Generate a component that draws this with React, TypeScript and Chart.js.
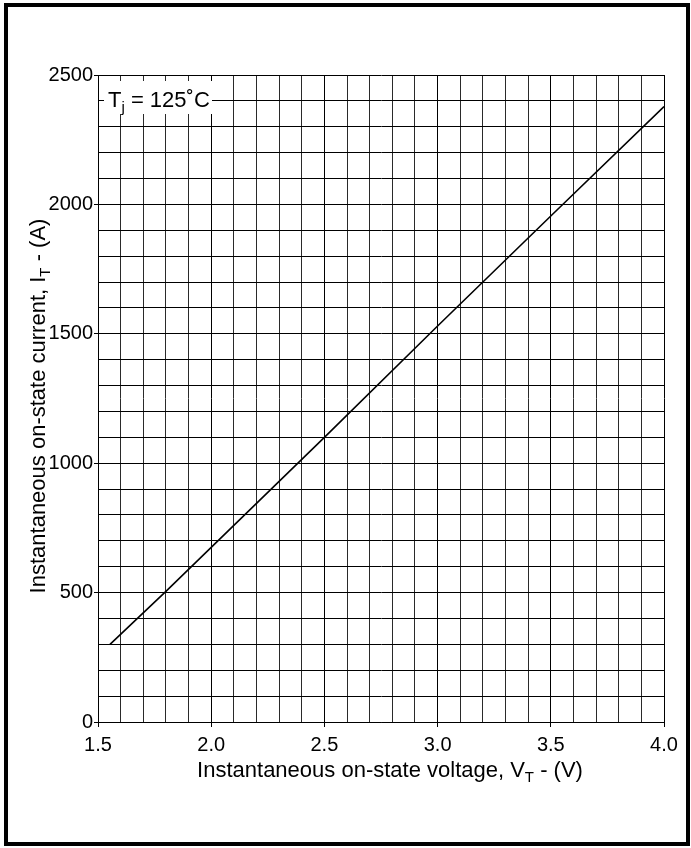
import { useEffect, useRef } from 'react';
import { Chart, registerables } from 'chart.js';

Chart.register(...registerables);

// ---- data ----
const voltage = [1.553, 1.8, 2.0, 2.5, 3.0, 3.5, 4.0];
const current = [300, 505, 675, 1100, 1530, 1955, 2378];
const xTickLabels = ['1.5', '2.0', '2.5', '3.0', '3.5', '4.0'];
const yTickLabels = ['0', '500', '1000', '1500', '2000', '2500'];
const xTitle = ['Instantaneous on-state voltage, V', 'T', ' - (V)'];
const yTitle = ['Instantaneous on-state current, I', 'T', ' - (A)'];
const noteText = ['T', 'j', ' = 125˚C'];

const FONT = '"Liberation Sans", Arial, sans-serif';

function drawParts(
  ctx: CanvasRenderingContext2D,
  parts: string[],
  x: number,
  y: number,
  size: number,
  subSize: number,
  subDrop: number,
  align: 'center' | 'left'
) {
  const fMain = `${size}px ${FONT}`;
  const fSub = `${subSize}px ${FONT}`;
  const widths = parts.map((p, i) => {
    ctx.font = i === 1 ? fSub : fMain;
    return ctx.measureText(p).width;
  });
  const total = widths.reduce((a, b) => a + b, 0);
  let cx = align === 'center' ? x - total / 2 : x;
  ctx.textAlign = 'left';
  ctx.textBaseline = 'alphabetic';
  ctx.fillStyle = '#000';
  parts.forEach((p, i) => {
    ctx.font = i === 1 ? fSub : fMain;
    ctx.fillText(p, cx, i === 1 ? y + subDrop : y);
    cx += widths[i];
  });
}

const textPlugin = {
  id: 'textPlugin',
  afterDraw(chart: any) {
    const ctx = chart.ctx as CanvasRenderingContext2D;
    const area = chart.chartArea;
    ctx.save();
    // annotation box
    ctx.fillStyle = '#fff';
    ctx.fillRect(area.left + 6, area.top + 6, 108, 33);
    drawParts(ctx, noteText, area.left + 10, area.top + 32, 22, 15, 5, 'left');
    // x title
    drawParts(ctx, xTitle, 390, 777, 22, 15, 5, 'center');
    // y title
    ctx.translate(45, 406);
    ctx.rotate(-Math.PI / 2);
    drawParts(ctx, yTitle, 0, 0, 22, 15, 5, 'center');
    ctx.restore();
  },
};

const isMajorX = (v: number) => Math.round(v * 10) % 5 === 0;
const isMajorY = (v: number) => Math.round(v) % 500 === 0;

export default function App() {
  const ref = useRef<HTMLCanvasElement | null>(null);

  useEffect(() => {
    document.body.style.margin = '0';
    const canvas = ref.current!;
    const chart = new Chart(canvas, {
      type: 'scatter',
      data: {
        datasets: [
          {
            data: voltage.map((v, i) => ({ x: v, y: current[i] })),
            showLine: true,
            borderColor: '#000',
            borderWidth: 1.6,
            pointRadius: 0,
            tension: 0,
          },
        ],
      },
      options: {
        responsive: false,
        animation: false,
        layout: { padding: { left: 0, top: 75, right: 27, bottom: 0 } },
        plugins: { legend: { display: false }, tooltip: { enabled: false } },
        scales: {
          x: {
            type: 'linear',
            min: 1.5,
            max: 4.0,
            afterFit: (s: any) => {
              s.height = 126;
            },
            ticks: {
              stepSize: 0.1,
              autoSkip: false,
              maxRotation: 0,
              padding: 6,
              color: '#000',
              font: { family: FONT, size: 20 },
              callback: (v: any) => {
                const r = Math.round(Number(v) * 10);
                const lbl = (r / 10).toFixed(1);
                return r % 5 === 0 && xTickLabels.includes(lbl) ? lbl : '';
              },
            },
            grid: {
              color: (c: any) => (isMajorX(c.tick.value) ? '#000' : '#2a2a2a'),
              lineWidth: 1,
              tickLength: 5,
              tickColor: (c: any) => (isMajorX(c.tick.value) ? '#000' : 'rgba(0,0,0,0)'),
            },
            border: { display: true, color: '#000', width: 1 },
          },
          y: {
            type: 'linear',
            min: 0,
            max: 2500,
            afterFit: (s: any) => {
              s.width = 98;
            },
            ticks: {
              stepSize: 100,
              autoSkip: false,
              padding: 1,
              color: '#000',
              font: { family: FONT, size: 20 },
              callback: (v: any) => {
                const lbl = String(Math.round(Number(v)));
                return isMajorY(Number(v)) && yTickLabels.includes(lbl) ? lbl : '';
              },
            },
            grid: {
              color: '#000',
              lineWidth: 1,
              tickLength: 4,
              tickColor: (c: any) => (isMajorY(c.tick.value) ? '#000' : 'rgba(0,0,0,0)'),
            },
            border: { display: true, color: '#000', width: 1 },
          },
        },
      },
      plugins: [textPlugin],
    });
    return () => chart.destroy();
  }, []);

  return (
    <div style={{ position: 'absolute', left: 0, top: 0, width: 691, height: 848, background: '#fff' }}>
      <canvas ref={ref} width={691} height={848} style={{ display: 'block' }} />
      <div
        style={{
          position: 'absolute',
          left: 4,
          top: 3,
          width: 686,
          height: 843,
          border: '4px solid #000',
          boxSizing: 'border-box',
          pointerEvents: 'none',
        }}
      />
    </div>
  );
}
